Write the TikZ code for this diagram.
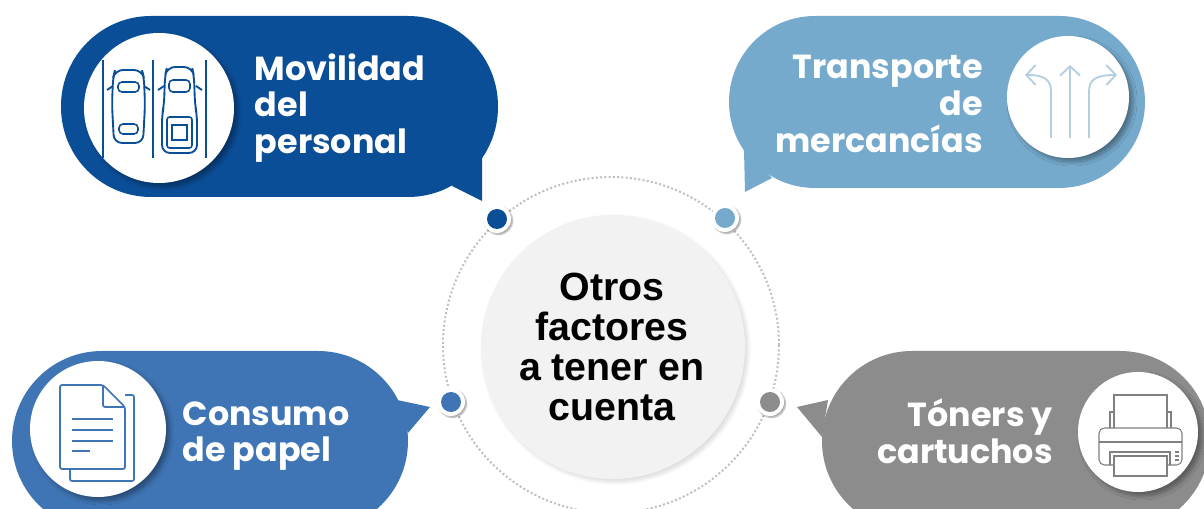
\documentclass[tikz,border=0pt]{standalone}
\usepackage{fontspec}
\setmainfont{Poppins}
\newfontfamily\centerfont{Liberation Sans}
\usepackage{xcolor}
\usetikzlibrary{shadows.blur,arrows.meta}
\definecolor{darkblue}{HTML}{0B4E98}
\definecolor{skyblue}{HTML}{76AACD}
\definecolor{midblue}{HTML}{3F75B5}
\definecolor{midgray}{HTML}{8C8C8C}
\definecolor{lightarrow}{HTML}{B5CFE2}
\begin{document}
\begin{tikzpicture}[x=0.75pt,y=-0.75pt,
  label/.style={text=white,font=\bfseries\fontsize{25}{27.5}\selectfont,inner sep=0pt},
  disc/.style={circle,fill=white,inner sep=0pt,blur shadow={shadow xshift=3pt,shadow yshift=-3pt,shadow blur steps=8,shadow blur radius=3pt,shadow opacity=35}},
  halo/.style={circle,fill=white,inner sep=0pt,minimum size=21pt,blur shadow={shadow xshift=1.2pt,shadow yshift=-1.2pt,shadow blur steps=5,shadow blur radius=1pt,shadow opacity=35}},
  dot/.style={circle,inner sep=0pt,minimum size=15pt}]
\useasboundingbox (0,0) rectangle (1204,509);
\clip (0,0) rectangle (1204,509);

% speech bubbles
\fill[darkblue,rounded corners=67.5pt] (61,16) rectangle (498,197);
\fill[darkblue] (452,186) -- (482,201) -- (482,150) -- cycle;
\fill[skyblue,rounded corners=64.5pt] (729,16) rectangle (1145,188);
\fill[skyblue] (772,178) -- (745,192) -- (744,150) -- cycle;
\fill[midblue,rounded corners=67.5pt] (12,351) rectangle (408,531);
\fill[midblue] (397,400) -- (430,407) -- (408,433) -- cycle;
\fill[midgray,rounded corners=67.5pt] (822,351) rectangle (1210,531);
\fill[midgray] (828,400) -- (797,407) -- (822,437) -- cycle;

% centre
\draw[lightgray,line width=1.5pt,dash pattern=on 1.5pt off 1.7pt] (611,345) circle (168);
\node[circle,fill=black!5,inner sep=0pt,minimum size=198pt,blur shadow={shadow xshift=2pt,shadow yshift=-2pt,shadow blur steps=8,shadow blur radius=3pt,shadow opacity=15}] (hub) at (613,347) {};
\node[align=center,inner sep=0pt,font=\centerfont\bfseries\fontsize{29.5}{30}\selectfont] (hubtext) at (612,347) {Otros\\factores\\a tener en\\cuenta};

\node[halo] (haloA) at (497,219) {};
\node[halo] (haloB) at (725,218) {};
\node[halo] (haloC) at (451,402) {};
\node[halo] (haloD) at (770,402) {};
\node[dot,fill=darkblue] (dotA) at (497,219) {};
\node[dot,fill=skyblue] (dotB) at (725,218) {};
\node[dot,fill=midblue] (dotC) at (451,402) {};
\node[dot,fill=midgray] (dotD) at (770,402) {};

% white icon discs
\node[disc,minimum size=112.5pt] (discA) at (159,108) {};
\node[disc,minimum size=91.5pt] (discB) at (1068,97) {};
\node[disc,minimum size=102pt] (discC) at (98,429) {};
\node[disc,minimum size=90pt] (discD) at (1138,432) {};

% labels
\node[label,align=left] (textA) at (340,108) {Movilidad\\del\\personal};
\node[label,align=right] (textB) at (879,104) {Transporte\\de\\mercancías};
\node[label,align=left] (textC) at (266,436) {Consumo\\de papel};
\node[label,align=right] (textD) at (965,431) {Tóners y\\cartuchos};

% cars
\draw[darkblue,line width=1.4pt] (103,60) -- (103,158) (153,60) -- (153,158) (206,60) -- (206,158);
\draw[darkblue,line width=1.4pt,rounded corners=6pt] (113,78) -- (115,70) -- (142,70) -- (144,78) -- (145,105) -- (143,143) -- (114,143) -- (112,105) -- cycle;
\draw[darkblue,line width=1.2pt,rounded corners=3pt] (118,82) rectangle (139,92) (119,124) rectangle (138,134);
\draw[darkblue,line width=1.4pt] (107,90) -- (113,86) (150,90) -- (144,86);
\draw[darkblue,line width=1.4pt,rounded corners=6pt] (165,76) -- (167,67) -- (192,67) -- (194,76) -- (195,105) -- (197,115) -- (197,153) -- (162,153) -- (162,115) -- (164,105) -- cycle;
\draw[darkblue,line width=1.2pt,rounded corners=3pt] (169,80) rectangle (190,92);
\draw[darkblue,line width=1.2pt,rounded corners=2pt] (167,117) rectangle (192,148);
\draw[darkblue,line width=1.2pt] (172,125) -- (187,125) -- (187,140) -- (172,140) -- cycle;
\draw[darkblue,line width=1.4pt] (158,90) -- (164,86) (202,90) -- (196,86);

% arrows
\draw[lightarrow,line width=1.4pt,-{Straight Barb[length=7pt,width=15pt]}] (1070,138) -- (1070,65);
\draw[lightarrow,line width=1.4pt,-{Straight Barb[length=7pt,width=15pt]}] (1051,138) -- (1051,92) .. controls (1051,80) and (1045,75) .. (1025,75);
\draw[lightarrow,line width=1.4pt,-{Straight Barb[length=7pt,width=15pt]}] (1089,138) -- (1089,92) .. controls (1089,80) and (1095,75) .. (1117,75);

% paper
\draw[midblue,line width=1.3pt,rounded corners=1.5pt] (125,395) -- (134,395) -- (134,481) -- (70,481) -- (70,469);
\draw[midblue,line width=1.3pt,rounded corners=1.5pt] (103,385) -- (60,385) -- (60,469) -- (125,469) -- (125,407) -- cycle;
\draw[midblue,line width=1.3pt,rounded corners=1.5pt] (103,385) -- (103,407) -- (125,407);
\draw[midblue,line width=1.3pt] (72,419) -- (113,419) (72,430) -- (113,430) (72,441) -- (113,441) (72,451) -- (90,451);

% printer
\draw[gray,line width=0.8pt] (1114,428) -- (1114,395) -- (1167,395) -- (1167,428);
\draw[gray,line width=0.8pt] (1114,412) -- (1110,412) -- (1110,428) (1167,412) -- (1171,412) -- (1171,428);
\draw[gray,line width=0.8pt,rounded corners=4pt] (1099,428) rectangle (1182,465);
\draw[gray,line width=0.8pt] (1099,442) -- (1182,442);
\draw[gray,line width=0.8pt] (1110,465) -- (1110,452) -- (1170,452) -- (1170,465);
\draw[gray,line width=0.8pt,fill=white] (1114,456) rectangle (1167,476);
\draw[gray,line width=0.8pt] (1175,452) -- (1179,452) (1175,456) -- (1179,456) (1175,460) -- (1179,460);
\end{tikzpicture}
\end{document}
